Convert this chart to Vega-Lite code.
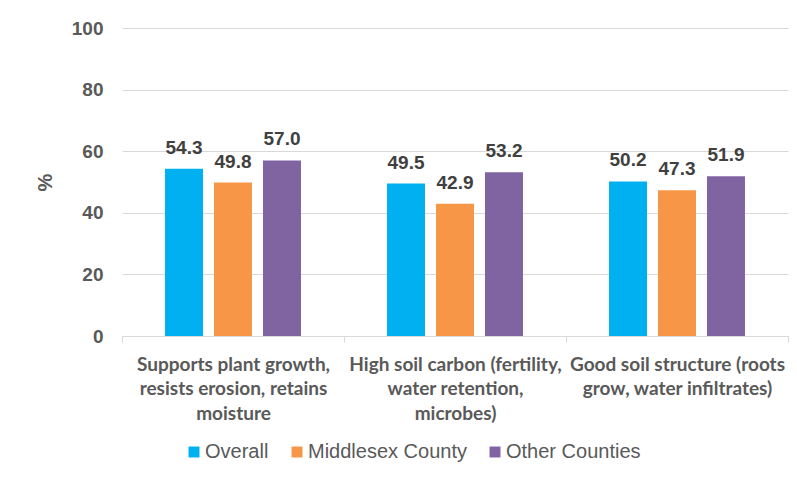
{
  "$schema": "https://vega.github.io/schema/vega-lite/v6.json",
  "width": 666,
  "height": 308,
  "autosize": {"type": "none"},
  "padding": {"left": 122, "top": 28, "right": 9, "bottom": 144},
  "background": "white",
  "config": {"view": {"stroke": null}},
  "data": {
    "values": [
      {"category": "Supports plant growth, resists erosion, retains moisture", "series": "Overall", "value": 54.3},
      {"category": "Supports plant growth, resists erosion, retains moisture", "series": "Middlesex County", "value": 49.8},
      {"category": "Supports plant growth, resists erosion, retains moisture", "series": "Other Counties", "value": 57.0},
      {"category": "High soil carbon (fertility, water retention, microbes)", "series": "Overall", "value": 49.5},
      {"category": "High soil carbon (fertility, water retention, microbes)", "series": "Middlesex County", "value": 42.9},
      {"category": "High soil carbon (fertility, water retention, microbes)", "series": "Other Counties", "value": 53.2},
      {"category": "Good soil structure (roots grow, water infiltrates)", "series": "Overall", "value": 50.2},
      {"category": "Good soil structure (roots grow, water infiltrates)", "series": "Middlesex County", "value": 47.3},
      {"category": "Good soil structure (roots grow, water infiltrates)", "series": "Other Counties", "value": 51.9}
    ]
  },
  "encoding": {
    "x": {
      "field": "category",
      "type": "nominal",
      "sort": null,
      "scale": {"paddingInner": 0, "paddingOuter": 0},
      "axis": {
        "title": null,
        "labelAngle": 0,
        "labelExpr": "datum.value == 'Supports plant growth, resists erosion, retains moisture' ? ['Supports plant growth,', 'resists erosion, retains', 'moisture'] : datum.value == 'High soil carbon (fertility, water retention, microbes)' ? ['High soil carbon (fertility,', 'water retention,', 'microbes)'] : datum.value == 'Good soil structure (roots grow, water infiltrates)' ? ['Good soil structure (roots', 'grow, water infiltrates)'] : ''",
        "labelFont": "Lato",
        "labelFontWeight": "bold",
        "labelFontSize": 19,
        "labelColor": "#595959",
        "labelLineHeight": 24.5,
        "labelPadding": 13,
        "labelLimit": 300,
        "domainColor": "#D9D9D9",
        "tickColor": "#D9D9D9",
        "tickBand": "extent",
        "tickSize": 6,
        "grid": false
      }
    },
    "xOffset": {
      "field": "series",
      "type": "nominal",
      "sort": ["Overall", "Middlesex County", "Other Counties"],
      "scale": {"paddingInner": 0.2245, "paddingOuter": 0.878}
    },
    "y": {
      "field": "value",
      "type": "quantitative",
      "scale": {"domain": [0, 100]},
      "axis": {
        "title": "%",
        "values": [0, 20, 40, 60, 80, 100],
        "grid": true,
        "gridColor": "#D9D9D9",
        "domain": false,
        "ticks": false,
        "labelFont": "Liberation Sans",
        "labelFontWeight": "bold",
        "labelFontSize": 19,
        "labelColor": "#595959",
        "labelPadding": 19,
        "titleFont": "Liberation Sans",
        "titleFontWeight": "bold",
        "titleFontSize": 20,
        "titleColor": "#595959",
        "titleAngle": -90,
        "titleX": -77,
        "titleY": 154,
        "titleAlign": "center",
        "titleBaseline": "middle"
      }
    }
  },
  "layer": [
    {
      "mark": {"type": "bar"},
      "encoding": {
        "color": {
          "field": "series",
          "type": "nominal",
          "sort": ["Overall", "Middlesex County", "Other Counties"],
          "scale": {"domain": ["Overall", "Middlesex County", "Other Counties"], "range": ["#00B0F0", "#F79646", "#8064A2"]},
          "legend": {
            "title": null,
            "orient": "none",
            "direction": "horizontal",
            "legendX": 62,
            "legendY": 414,
            "symbolType": "square",
            "symbolSize": 120,
            "symbolStrokeWidth": 0,
            "labelFont": "Liberation Sans",
            "labelFontSize": 20,
            "labelColor": "#595959",
            "labelOffset": 1,
            "columnPadding": 18
          }
        }
      }
    },
    {
      "mark": {"type": "text", "baseline": "alphabetic", "dy": -15, "font": "Liberation Sans", "fontWeight": "bold", "fontSize": 19, "color": "#404040"},
      "encoding": {
        "text": {"field": "value", "type": "quantitative", "format": ".1f"}
      }
    }
  ]
}
